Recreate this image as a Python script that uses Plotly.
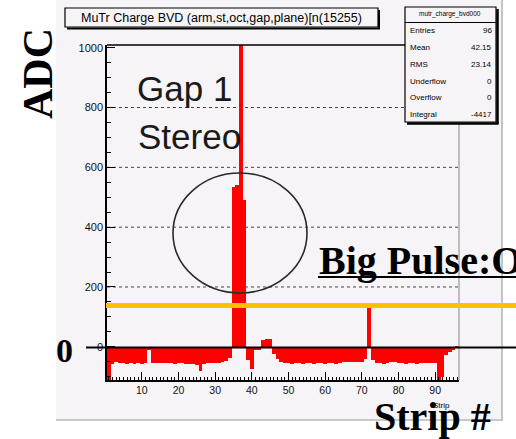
import plotly.graph_objects as go

# ---- data: ADC charge per strip (Gap 1, stereo plane) ----
strips = list(range(1, 97))
adc = [
    -130, -58, -52, -53, -55, -56, -55, -56, -55, -56,   # 1-10
    -55, -12, -54, -55, -53, -54, -55, -55, -56, -55,    # 11-20
    -55, -56, -56, -57, -60, -80, -56, -54, -55, -55,    # 21-30
    -53, -52, -47, -36, 535, 540, 1150, 490, -45, -75,   # 31-40
    -10, -12, 22, 25, 25, -25, -40, -52, -55, -55,       # 41-50
    -56, -55, -55, -56, -55, -55, -56, -55, -55, -56,    # 51-60
    -55, -55, -56, -55, -51, -51, -50, -51, -51, -50,    # 61-70
    -40, 136, -45, -55, -55, -56, -55, -51, -51, -55,    # 71-80
    -55, -56, -55, -55, -56, -55, -55, -54, -55, -55,    # 81-90
    -125, -100, -28, -18, -10, -5,                       # 91-96
]
ytick_vals = [0, 200, 400, 600, 800, 1000]
xtick_vals = [10, 20, 30, 40, 50, 60, 70, 80, 90]
grid_vals = [200, 400, 600, 800]

title_text = "MuTr Charge BVD (arm,st,oct,gap,plane)[n(15255)"
stats_name = "mutr_charge_bvd000"
stats_rows = [("Entries", "96"), ("Mean", "42.15"), ("RMS", "23.14"),
              ("Underflow", "0"), ("Overflow", "0"), ("Integral", "-4417")]

# ---- page geometry (pixels) ----
FW, FH = 516, 439
L, R, T, B = 107, 459, 45, 380
W, H = R - L, B - T


def px(x):
    return (x - L) / W


def py(y):
    return (B - y) / H


CANVAS = "#f7f4f7"
GOLD = "#ffc000"

fig = go.Figure()
fig.add_trace(go.Bar(x=strips, y=adc, width=1.0,
                     marker=dict(color="#ff0000", line=dict(width=0)),
                     hoverinfo="skip"))

shapes = []
# canvas background
shapes.append(dict(type="rect", xref="paper", yref="paper", layer="below",
                   x0=px(56), x1=px(502), y0=py(0), y1=py(421),
                   fillcolor=CANVAS, line=dict(width=0)))
# canvas borders
shapes.append(dict(type="line", xref="paper", yref="paper", layer="below",
                   x0=px(502), x1=px(502), y0=py(0), y1=py(421),
                   line=dict(color="#c4c4c4", width=2)))
shapes.append(dict(type="line", xref="paper", yref="paper", layer="below",
                   x0=px(56), x1=px(502), y0=py(420), y1=py(420),
                   line=dict(color="#c8c8c8", width=2)))
# dotted grid
for g in grid_vals:
    shapes.append(dict(type="line", xref="paper", yref="y", layer="below",
                       x0=0, x1=1, y0=g, y1=g,
                       line=dict(color="#444", width=1, dash="dot")))
# frame top / right
shapes.append(dict(type="line", xref="paper", yref="paper",
                   x0=0, x1=px(405), y0=1, y1=1,
                   line=dict(color="black", width=1.5)))
shapes.append(dict(type="line", xref="paper", yref="paper",
                   x0=px(459), x1=px(459), y0=0, y1=1,
                   line=dict(color="#bdbdbd", width=2)))

# title box
shapes.append(dict(type="rect", xref="paper", yref="paper",
                   x0=px(65), x1=px(378), y0=py(27), y1=py(8),
                   fillcolor=CANVAS, line=dict(color="black", width=1.2)))
shapes.append(dict(type="line", xref="paper", yref="paper",
                   x0=px(379), x1=px(379), y0=py(29), y1=py(10),
                   line=dict(color="black", width=2)))
shapes.append(dict(type="line", xref="paper", yref="paper",
                   x0=px(67), x1=px(380), y0=py(28.5), y1=py(28.5),
                   line=dict(color="black", width=2)))

# stats box
shapes.append(dict(type="rect", xref="paper", yref="paper",
                   x0=px(405), x1=px(496), y0=py(122), y1=py(7),
                   fillcolor=CANVAS, line=dict(color="black", width=1.2)))
shapes.append(dict(type="line", xref="paper", yref="paper",
                   x0=px(497.5), x1=px(497.5), y0=py(124), y1=py(9),
                   line=dict(color="black", width=2.5)))
shapes.append(dict(type="line", xref="paper", yref="paper",
                   x0=px(407), x1=px(498.5), y0=py(123.5), y1=py(123.5),
                   line=dict(color="black", width=2.5)))
shapes.append(dict(type="line", xref="paper", yref="paper",
                   x0=px(405), x1=px(496), y0=py(22.5), y1=py(22.5),
                   line=dict(color="black", width=1.2)))

# annotation overlays
shapes.append(dict(type="circle", xref="paper", yref="paper",
                   x0=px(173), x1=px(307), y0=py(293), y1=py(173),
                   line=dict(color="#2a2a2a", width=1.6)))
shapes.append(dict(type="line", xref="paper", yref="paper",
                   x0=px(106), x1=px(516), y0=py(305.5), y1=py(305.5),
                   line=dict(color=GOLD, width=5)))
shapes.append(dict(type="line", xref="paper", yref="paper",
                   x0=px(86), x1=px(516), y0=py(347.5), y1=py(347.5),
                   line=dict(color="black", width=2)))
shapes.append(dict(type="line", xref="paper", yref="paper",
                   x0=px(318), x1=px(516), y0=py(277), y1=py(277),
                   line=dict(color="black", width=2)))

ann = []


def text(x, y, s, size, family="Liberation Sans", color="black",
         xanchor="center", yanchor="middle", angle=0):
    ann.append(dict(x=px(x), y=py(y), xref="paper", yref="paper", text=s,
                    showarrow=False, xanchor=xanchor, yanchor=yanchor,
                    textangle=angle,
                    font=dict(family=family, size=size, color=color)))


text(221, 17.5, title_text, 12.5)
text(450, 14.5, stats_name, 6.5)
row_y = [30.5, 47.5, 64, 81, 98, 114.5]
for (k, v), yy in zip(stats_rows, row_y):
    text(408, yy, k, 8, xanchor="left")
    text(494, yy, v, 8, xanchor="right")

text(452, 406, "Strip", 8, xanchor="right")

SERIF = "Liberation Serif"
text(38, 74, "<b>ADC</b>", 42, family=SERIF, angle=-90)
text(64, 350, "<b>0</b>", 34, family=SERIF)
text(317, 260.5, "<b>Big Pulse:O</b>", 40, family=SERIF, xanchor="left")
text(372, 416, "<b>Strip #</b>", 40, family=SERIF, xanchor="left")
text(135, 88, "Gap 1", 35, color="#1a1a1a", xanchor="left")
text(136, 136, "Stereo", 35, color="#1a1a1a", xanchor="left")

fig.update_layout(
    width=FW, height=FH, autosize=False,
    margin=dict(l=L, r=FW - R, t=T, b=FH - B, pad=0),
    paper_bgcolor="white", plot_bgcolor="rgba(0,0,0,0)",
    showlegend=False, bargap=0,
    shapes=shapes, annotations=ann,
    font=dict(family="Liberation Sans", color="black"),
)
fig.update_xaxes(range=[0.5, 96.5], tickvals=xtick_vals, ticks="inside",
                 ticklen=8, tickwidth=1.2, tickcolor="black",
                 showline=True, linecolor="black", linewidth=1.5,
                 showgrid=False, zeroline=False,
                 tickfont=dict(size=10.5, color="#111"),
                 minor=dict(dtick=1, tick0=0, ticks="inside", ticklen=3,
                            tickcolor="black", showgrid=False))
fig.update_yaxes(range=[-111, 1009], tickvals=ytick_vals, ticks="inside",
                 ticklen=8, tickwidth=1.2, tickcolor="black",
                 showline=True, linecolor="black", linewidth=1.5,
                 showgrid=False, zeroline=False,
                 tickfont=dict(size=11, color="#111"),
                 minor=dict(dtick=50, tick0=0, ticks="inside", ticklen=4,
                            tickcolor="black", showgrid=False))

fig.write_html("out.html")
